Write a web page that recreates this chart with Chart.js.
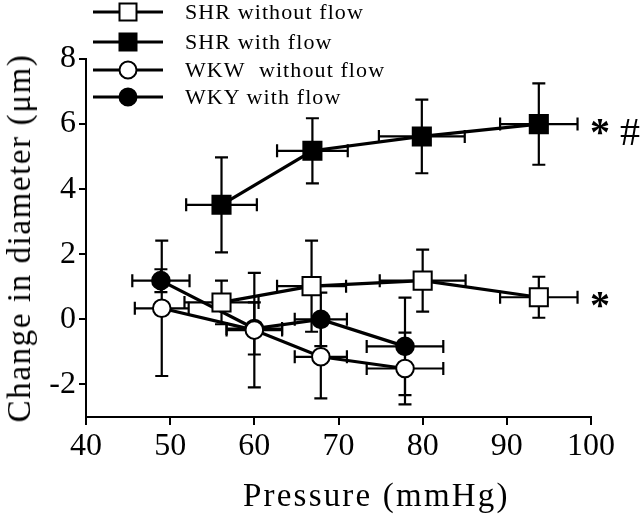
<!DOCTYPE html>
<html><head><meta charset="utf-8">
<script src="https://cdn.jsdelivr.net/npm/chart.js@4.4.1/dist/chart.umd.min.js"></script>
<style>
html,body{margin:0;padding:0;background:#fff;}
#wrap{position:relative;width:640px;height:518px;overflow:hidden;font-family:"Liberation Serif","Times New Roman",serif;color:#000;}
#c{position:absolute;left:0;top:0;}
.lgsym{position:absolute;left:90px;width:78px;height:28px;}
.lgtxt{position:absolute;left:185px;height:28px;line-height:28px;font-size:22px;letter-spacing:1.1px;white-space:nowrap;}
.xt{position:absolute;left:243px;top:477px;font-size:33px;letter-spacing:2.2px;white-space:nowrap;line-height:36px;}
.yt{position:absolute;left:19px;top:238px;font-size:33px;letter-spacing:1.6px;white-space:nowrap;line-height:36px;transform:translate(-50%,-50%) rotate(-90deg);}
.note{position:absolute;font-size:40px;line-height:40px;white-space:nowrap;}
</style>
</head><body>
<div id="wrap">
<canvas id="c" width="640" height="518"></canvas>
<svg class="lgsym" style="top:-2px" viewBox="0 0 78 28"><line x1="3" y1="14" x2="73" y2="14" stroke="#000" stroke-width="3"/><rect x="29.5" y="5.5" width="17" height="17" fill="#fff" stroke="#000" stroke-width="2"/></svg>
<div class="lgtxt" style="top:-2px">SHR without flow</div>
<svg class="lgsym" style="top:28px" viewBox="0 0 78 28"><line x1="3" y1="14" x2="73" y2="14" stroke="#000" stroke-width="3"/><rect x="29.5" y="5.5" width="17" height="17" fill="#000" stroke="#000" stroke-width="2"/></svg>
<div class="lgtxt" style="top:28px">SHR with flow</div>
<svg class="lgsym" style="top:56px" viewBox="0 0 78 28"><line x1="3" y1="14" x2="73" y2="14" stroke="#000" stroke-width="3"/><circle cx="38" cy="14" r="8.5" fill="#fff" stroke="#000" stroke-width="2"/></svg>
<div class="lgtxt" style="top:56px">WKW&nbsp; without flow</div>
<svg class="lgsym" style="top:83px" viewBox="0 0 78 28"><line x1="3" y1="14" x2="73" y2="14" stroke="#000" stroke-width="3"/><circle cx="38" cy="14" r="8.5" fill="#000" stroke="#000" stroke-width="2"/></svg>
<div class="lgtxt" style="top:83px">WKY with flow</div>
<div class="xt">Pressure (mmHg)</div>
<div class="yt">Change in diameter (μm)</div>
<div class="note" style="left:590px;top:112px"><b>*</b>&nbsp;#</div>
<div class="note" style="left:590px;top:285px"><b>*</b></div>
</div>
<script>
// ---- data ----
const xTicks = [40, 50, 60, 70, 80, 90, 100];
const yTicks = [-2, 0, 2, 4, 6, 8];

const shrNoFlowX    = [56.1, 66.8, 80.0, 93.8];
const shrNoFlowXErr = [4.4, 4.1, 5.1, 4.6];
const shrNoFlowY    = [0.52, 1.02, 1.19, 0.68];
const shrNoFlowYErr = [0.67, 1.40, 0.95, 0.63];

const shrFlowX    = [56.1, 66.9, 79.9, 93.8];
const shrFlowXErr = [4.2, 4.2, 5.1, 4.6];
const shrFlowY    = [3.52, 5.18, 5.62, 6.00];
const shrFlowYErr = [1.46, 1.00, 1.13, 1.25];

const wkwNoFlowX    = [49.0, 60.0, 67.9, 77.9];
const wkwNoFlowXErr = [3.2, 3.3, 3.1, 4.55];
const wkwNoFlowY    = [0.34, -0.33, -1.15, -1.51];
const wkwNoFlowYErr = [2.08, 1.76, 1.28, 1.10];

const wkyFlowX    = [48.9, 60.0, 67.9, 77.9];
const wkyFlowXErr = [3.4, 3.3, 3.1, 4.55];
const wkyFlowY    = [1.19, -0.28, 0.00, -0.83];
const wkyFlowYErr = [0.35, 0.80, 0.82, 1.50];

function pts(xs, xe, ys, ye){ return xs.map((v,i)=>({x:v, y:ys[i], xErr:xe[i], yErr:ye[i]})); }

const errorBars = {
  id:'errorBars',
  beforeDatasetsDraw(chart){
    const {ctx, scales:{x, y}} = chart;
    const cap = 6.5;
    ctx.save();
    ctx.strokeStyle = '#000';
    ctx.lineWidth = 2.2;
    ctx.lineCap = 'butt';
    chart.data.datasets.forEach(ds=>{
      ds.data.forEach(p=>{
        const cx = x.getPixelForValue(p.x), cy = y.getPixelForValue(p.y);
        const x0 = x.getPixelForValue(p.x - p.xErr), x1 = x.getPixelForValue(p.x + p.xErr);
        const y0 = y.getPixelForValue(p.y - p.yErr), y1 = y.getPixelForValue(p.y + p.yErr);
        ctx.beginPath();
        ctx.moveTo(x0, cy); ctx.lineTo(x1, cy);
        ctx.moveTo(x0, cy - cap); ctx.lineTo(x0, cy + cap);
        ctx.moveTo(x1, cy - cap); ctx.lineTo(x1, cy + cap);
        ctx.moveTo(cx, y0); ctx.lineTo(cx, y1);
        ctx.moveTo(cx - cap, y0); ctx.lineTo(cx + cap, y0);
        ctx.moveTo(cx - cap, y1); ctx.lineTo(cx + cap, y1);
        ctx.stroke();
      });
    });
    ctx.restore();
  }
};

function series(label, data, style, fill){
  return {
    label, data, showLine:true, tension:0,
    borderColor:'#000', borderWidth:3.2,
    pointStyle:style, pointRadius: style==='rect' ? 12.8 : 8.8,
    pointBackgroundColor: fill, pointBorderColor:'#000', pointBorderWidth:2
  };
}

const tickFont = {family:'"Liberation Serif","Times New Roman",serif', size:32};

new Chart(document.getElementById('c'), {
  type:'scatter',
  data:{
    datasets:[
      series('SHR without flow', pts(shrNoFlowX, shrNoFlowXErr, shrNoFlowY, shrNoFlowYErr), 'rect', '#fff'),
      series('SHR with flow', pts(shrFlowX, shrFlowXErr, shrFlowY, shrFlowYErr), 'rect', '#000'),
      series('WKW without flow', pts(wkwNoFlowX, wkwNoFlowXErr, wkwNoFlowY, wkwNoFlowYErr), 'circle', '#fff'),
      series('WKY with flow', pts(wkyFlowX, wkyFlowXErr, wkyFlowY, wkyFlowYErr), 'circle', '#000')
    ]
  },
  options:{
    responsive:false, animation:false, events:[],
    layout:{padding:{top:59, right:49, left:0, bottom:0}},
    plugins:{legend:{display:false}, tooltip:{enabled:false}},
    scales:{
      x:{
        type:'linear', min:40, max:100,
        afterBuildTicks:s=>{ s.ticks = xTicks.map(v=>({value:v})); },
        afterFit:s=>{ s.height = 101; },
        ticks:{font:tickFont, color:'#000', padding:2, maxRotation:0},
        grid:{drawOnChartArea:false, drawTicks:true, tickLength:8, color:'#000', lineWidth:2},
        border:{display:true, color:'#000', width:2}
      },
      y:{
        type:'linear', min:-3, max:8,
        afterBuildTicks:s=>{ s.ticks = yTicks.map(v=>({value:v})); },
        afterFit:s=>{ s.width = 86; },
        ticks:{font:tickFont, color:'#000', padding:3},
        grid:{drawOnChartArea:false, drawTicks:true, tickLength:7, color:'#000', lineWidth:2},
        border:{display:true, color:'#000', width:2}
      }
    }
  },
  plugins:[errorBars]
});
</script>
</body></html>
